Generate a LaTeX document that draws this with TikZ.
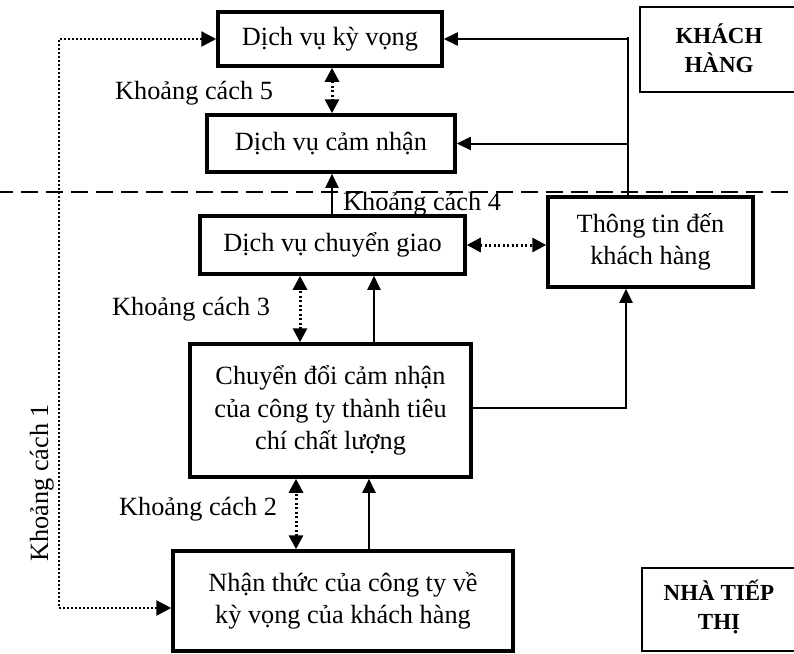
\documentclass[tikz,border=0pt]{standalone}
\usepackage{fontspec}
\setmainfont{Liberation Serif}
\usetikzlibrary{arrows.meta}
\newcommand{\fsz}{\fontsize{26.3}{32.5}\selectfont}
\newcommand{\fbz}{\fontsize{23}{29}\selectfont\bfseries}
\tikzset{
  box/.style={draw, line width=3.5pt, inner sep=0pt, align=center, font=\fsz},
  sidebox/.style={draw, line width=2pt},
  sidetext/.style={inner sep=0pt, align=center, font=\fbz},
  lbl/.style={inner sep=0pt, font=\fsz},
  arr/.style={line width=2pt, -{Triangle[length=14pt,width=13pt]}},
  plainline/.style={line width=2pt},
  darr/.style={line width=3pt, dash pattern=on 2pt off 2.5pt,
     {Triangle[length=14pt,width=14pt]}-{Triangle[length=14pt,width=14pt]}},
  k1arr/.style={line width=2.5pt, dash pattern=on 2pt off 2pt,
     {Triangle[length=15pt,width=15pt]}-{Triangle[length=15pt,width=15pt]}},
  sep/.style={line width=2.5pt, dash pattern=on 17pt off 8pt}
}
\begin{document}
\begin{tikzpicture}[x=1pt,y=-1pt]
\clip (0,0) rectangle (794,653);
\fill[white] (0,0) rectangle (794,653);

% main boxes
\node[box, minimum width=224pt, minimum height=54pt] (b1) at (330,39) {Dịch vụ kỳ vọng};
\node[box, minimum width=248pt, minimum height=57pt] (b2) at (331,143.5) {Dịch vụ cảm nhận};
\node[box, minimum width=265pt, minimum height=58pt] (b3) at (332.5,245) {Dịch vụ chuyển giao};
\node[box, minimum width=281pt, minimum height=133pt] (b4) at (330.5,410.5) {Chuyển đổi cảm nhận\\của công ty thành tiêu\\chí chất lượng};
\node[box, minimum width=340pt, minimum height=100pt] (b5) at (343,601) {\raisebox{5pt}{\begin{tabular}{@{}c@{}}Nhận thức của công ty về\\[-1pt]kỳ vọng của khách hàng\end{tabular}}};
\node[box, minimum width=205pt, minimum height=90pt] (info) at (650.5,242) {Thông tin đến\\khách hàng};

% side boxes
\draw[sidebox] (640,7) rectangle (840,92);
\node[sidetext] (kh) at (719,48) {KHÁCH\\HÀNG};
\draw[sidebox] (642,568) rectangle (840,651);
\node[sidetext] (nt) at (719,607) {NHÀ TIẾP\\THỊ};

% separator
\draw[sep] (-4,192) -- (800,192);

% labels
\node[lbl, anchor=base west] (k5) at (115,99) {Khoảng cách 5};
\node[lbl, anchor=base west] (k4) at (343,210) {Khoảng cách 4};
\node[lbl, anchor=base west] (k3) at (112,315) {Khoảng cách 3};
\node[lbl, anchor=base west] (k2) at (119,515) {Khoảng cách 2};
\node[lbl, anchor=base west, rotate=90] (k1) at (48,562) {Khoảng cách 1};

% helper x positions
\coordinate (xa) at (332,0);
\coordinate (xb) at (300,0);
\coordinate (xc) at (374,0);
\coordinate (xd) at (296,0);
\coordinate (xe) at (369,0);
\coordinate (xv) at (628,37);
\coordinate (xi) at (626,0);
\coordinate (xk) at (59,0);
\coordinate (b5in) at ([yshift=-7pt]b5.west);

% gap 5
\draw[darr] (b1.south -| xa) -- (b2.north -| xa);
% delivered -> perceived
\draw[arr] (b3.north -| xa) -- (b2.south -| xa);
% customer side line
\draw[plainline] (info.north -| xv) -- (xv);
\draw[arr] (xv |- b1.east) -- (b1.east);
\draw[arr] (xv |- b2.east) -- (b2.east);
% gap 4
\draw[darr] (b3.east) -- (info.west |- b3.east);
% gap 3
\draw[darr] (b4.north -| xb) -- (b3.south -| xb);
\draw[arr] (b4.north -| xc) -- (b3.south -| xc);
% b4 -> info
\draw[arr] ([yshift=2.5pt]b4.east) -| (info.south -| xi);
% gap 2
\draw[darr] (b5.north -| xd) -- (b4.south -| xd);
\draw[arr] (b5.north -| xe) -- (b4.south -| xe);
% gap 1
\draw[k1arr] (b1.west) -- (b1.west -| xk) -- (xk |- b5in) -- (b5in);
\end{tikzpicture}
\end{document}
